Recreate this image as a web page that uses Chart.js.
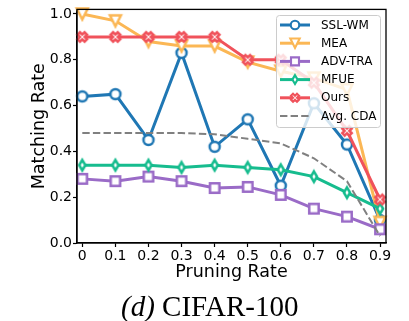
<!DOCTYPE html>
<html>
<head>
<meta charset="utf-8">
<script src="https://cdn.jsdelivr.net/npm/chart.js@4.4.1/dist/chart.umd.min.js"></script>
<style>
  body { margin: 0; background: #fff; }
  #wrap { position: relative; width: 409px; height: 321px; }
  #caption {
    position: absolute; left: 121px; top: 292px;
    font-family: "Liberation Serif", serif; font-size: 29px; line-height: 29px;
    white-space: nowrap; color: #000;
  }
</style>
</head>
<body>
<div id="wrap">
  <canvas id="chart" width="409" height="321"></canvas>
  <div id="caption"><i>(d)</i> CIFAR-100</div>
</div>
<script>
// data
const pruningRates = [0, 0.1, 0.2, 0.3, 0.4, 0.5, 0.6, 0.7, 0.8, 0.9];
const xTickLabels = ['0', '0.1', '0.2', '0.3', '0.4', '0.5', '0.6', '0.7', '0.8', '0.9'];
const yTickValues = [0, 0.2, 0.4, 0.6, 0.8, 1.0];

const sslWm = [0.64, 0.65, 0.45, 0.83, 0.42, 0.54, 0.25, 0.61, 0.43, 0.10];
const mea = [1.00, 0.97, 0.88, 0.86, 0.86, 0.79, 0.75, 0.72, 0.67, 0.09];
const advTra = [0.28, 0.27, 0.29, 0.27, 0.24, 0.245, 0.21, 0.15, 0.115, 0.06];
const mfue = [0.34, 0.34, 0.34, 0.33, 0.34, 0.33, 0.32, 0.29, 0.22, 0.15];
const ours = [0.90, 0.90, 0.90, 0.90, 0.90, 0.80, 0.80, 0.70, 0.49, 0.19];
const avgCda = [0.48, 0.48, 0.48, 0.48, 0.475, 0.455, 0.435, 0.37, 0.27, 0.03];

const FONT = 'DejaVu Sans';

// matplotlib-like hollow markers
function drawMarker(ctx, kind, cx, cy, k, color) {
  ctx.save();
  ctx.fillStyle = '#fff';
  ctx.strokeStyle = color;
  ctx.lineWidth = 2.5 * k;
  ctx.lineJoin = 'miter';
  ctx.beginPath();
  if (kind === 'o') {
    ctx.arc(cx, cy, 5 * k, 0, Math.PI * 2);
  } else if (kind === 'v') {
    const s = 5.5 * k;
    ctx.moveTo(cx - s, cy - s);
    ctx.lineTo(cx + s, cy - s);
    ctx.lineTo(cx, cy + s);
    ctx.closePath();
  } else if (kind === 's') {
    const h = 4.7 * k;
    ctx.rect(cx - h, cy - h, 2 * h, 2 * h);
  } else if (kind === 'd') {
    const h = 5.2 * k, w = 3.1 * k;
    ctx.moveTo(cx, cy - h);
    ctx.lineTo(cx + w, cy);
    ctx.lineTo(cx, cy + h);
    ctx.lineTo(cx - w, cy);
    ctx.closePath();
  } else if (kind === 'X') {
    const L = 5 * k, t = 1.7 * k;
    const pts = [[-t, -L], [t, -L], [t, -t], [L, -t], [L, t], [t, t], [t, L], [-t, L], [-t, t], [-L, t], [-L, -t], [-t, -t]];
    const c = Math.SQRT1_2;
    pts.forEach(([px, py], i) => {
      const rx = cx + (px - py) * c, ry = cy + (px + py) * c;
      if (i === 0) ctx.moveTo(rx, ry); else ctx.lineTo(rx, ry);
    });
    ctx.closePath();
  }
  ctx.fill();
  ctx.stroke();
  ctx.restore();
}

function markerImage(kind, color) {
  const c = document.createElement('canvas');
  c.width = 20;
  c.height = 20;
  drawMarker(c.getContext('2d'), kind, 10, 10, 1, color);
  return c;
}

const series = [
  { label: 'SSL-WM', data: sslWm, color: '#1f77b4', marker: 'o' },
  { label: 'MEA', data: mea, color: '#fbb755', marker: 'v' },
  { label: 'ADV-TRA', data: advTra, color: '#9a6bc7', marker: 's' },
  { label: 'MFUE', data: mfue, color: '#16bc8e', marker: 'd' },
  { label: 'Ours', data: ours, color: '#f0525b', marker: 'X' },
  { label: 'Avg. CDA', data: avgCda, color: '#808080', marker: null, dash: [7.4, 3.2] },
];

const datasets = series.map((s, i) => ({
  label: s.label,
  data: pruningRates.map((x, j) => ({ x: x, y: s.data[j] })),
  borderColor: s.color,
  borderWidth: s.marker ? 3 : 2,
  borderDash: s.dash || [],
  pointStyle: s.marker ? markerImage(s.marker, s.color) : false,
  pointRadius: s.marker ? 6 : 0,
  pointHoverRadius: s.marker ? 6 : 0,
  tension: 0,
  clip: false,
  order: series.length - i,
}));

// box around the plot, like matplotlib spines
const framePlugin = {
  id: 'frame',
  afterDatasetsDraw(chart) {
    const a = chart.chartArea;
    const ctx = chart.ctx;
    ctx.save();
    ctx.strokeStyle = '#000';
    ctx.lineWidth = 1.3;
    ctx.strokeRect(a.left, a.top, a.right - a.left, a.bottom - a.top);
    ctx.restore();
  }
};

// legend with line + marker samples
const legendPlugin = {
  id: 'mplLegend',
  afterDraw(chart) {
    const ctx = chart.ctx;
    const x0 = 276, y0 = 15, w = 104, h = 112;
    ctx.save();
    ctx.fillStyle = 'rgba(255,255,255,0.8)';
    ctx.strokeStyle = '#cccccc';
    ctx.lineWidth = 1;
    ctx.beginPath();
    ctx.roundRect(x0 + 0.5, y0 + 0.5, w, h, 3);
    ctx.fill();
    ctx.stroke();
    ctx.font = '12px "' + FONT + '"';
    ctx.textBaseline = 'middle';
    series.forEach((s, i) => {
      const y = 25 + i * 18.2;
      ctx.save();
      ctx.strokeStyle = s.color;
      ctx.lineWidth = s.marker ? 3 : 2;
      ctx.setLineDash(s.dash || []);
      ctx.beginPath();
      ctx.moveTo(280, y);
      ctx.lineTo(310, y);
      ctx.stroke();
      ctx.restore();
      if (s.marker) drawMarker(ctx, s.marker, 295, y, 0.85, s.color);
      ctx.fillStyle = '#000';
      ctx.fillText(s.label, 321, y + 0.5);
    });
    ctx.restore();
  }
};

new Chart(document.getElementById('chart'), {
  type: 'line',
  data: { datasets: datasets },
  options: {
    responsive: false,
    animation: false,
    layout: { padding: { top: 9, right: 23, left: 0, bottom: 0 } },
    plugins: { legend: { display: false }, tooltip: { enabled: false } },
    scales: {
      x: {
        type: 'linear',
        min: -0.016,
        max: 0.918,
        afterBuildTicks: (s) => { s.ticks = pruningRates.map(v => ({ value: v })); },
        afterFit: (s) => { s.height = 78; },
        ticks: {
          callback: (v, i) => xTickLabels[i],
          font: { family: FONT, size: 14 },
          color: '#000',
          padding: 1,
          maxRotation: 0,
          autoSkip: false,
        },
        grid: { display: true, drawOnChartArea: false, tickLength: 4, tickColor: '#000', tickWidth: 1.2 },
        border: { color: '#000', width: 1.3 },
        title: {
          display: true, text: 'Pruning Rate', color: '#000',
          font: { family: FONT, size: 17.5 },
          padding: { top: 0, bottom: 38 },
        },
      },
      y: {
        min: 0,
        max: 1.02,
        afterBuildTicks: (s) => { s.ticks = yTickValues.map(v => ({ value: v })); },
        afterFit: (s) => { s.width = 77; },
        ticks: {
          callback: (v) => v.toFixed(1),
          font: { family: FONT, size: 14 },
          color: '#000',
          padding: 1,
        },
        grid: { display: true, drawOnChartArea: false, tickLength: 4, tickColor: '#000', tickWidth: 1.2 },
        border: { color: '#000', width: 1.3 },
        title: {
          display: true, text: 'Matching Rate', color: '#000',
          font: { family: FONT, size: 17.5 },
          padding: { top: 29, bottom: 0 },
        },
      },
    },
  },
  plugins: [framePlugin, legendPlugin],
});
</script>
</body>
</html>
